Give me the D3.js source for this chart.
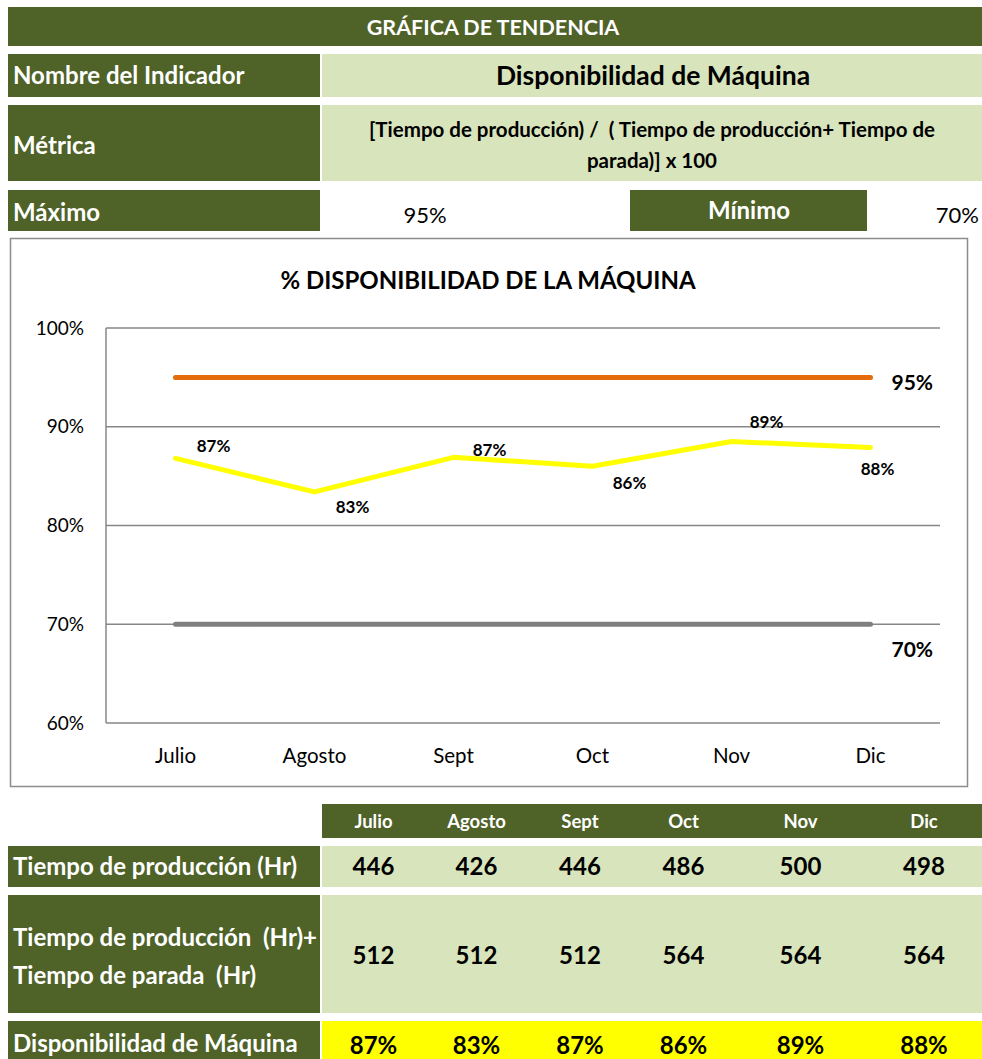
<!DOCTYPE html>
<html>
<head>
<meta charset="utf-8">
<script src="https://cdn.jsdelivr.net/npm/d3@7"></script>
<style>
  body { margin: 0; background: #fff; }
  svg text { font-family: Lato, "Open Sans", sans-serif; white-space: pre; }
</style>
</head>
<body>
<div id="chart"></div>
<script>
var months = ["Julio", "Agosto", "Sept", "Oct", "Nov", "Dic"];
var disponibilidad = [0.868, 0.834, 0.869, 0.860, 0.885, 0.879];
var dispLabels = ["87%", "83%", "87%", "86%", "89%", "88%"];
var tiempoProd = [446, 426, 446, 486, 500, 498];
var tiempoTotal = [512, 512, 512, 564, 564, 564];
var maximo = 0.95, minimo = 0.70;
var yTicks = [0.6, 0.7, 0.8, 0.9, 1.0];
// where each data label sits relative to its point [dx, dy]
var labelOffsets = [[38, -12], [38, 15], [36, -7], [37, 17], [35, -20], [7, 22]];

var dark = "#4F6228", light = "#D8E4BC";
var width = 982, height = 1059;

var svg = d3.select("#chart").append("svg")
    .attr("width", width)
    .attr("height", height);

// ---- header block ----
function cell(x, y, w, h, fill) {
    svg.append("rect").attr("x", x).attr("y", y).attr("width", w).attr("height", h).attr("fill", fill);
}
function txt(x, y, s, opts) {
    opts = opts || {};
    return svg.append("text")
        .attr("x", x).attr("y", y)
        .attr("dy", "0.35em")
        .attr("text-anchor", opts.anchor || "start")
        .style("font-size", (opts.size || 20) + "px")
        .style("font-weight", opts.weight || "bold")
        .attr("fill", opts.color || "#fff")
        .text(s);
}

cell(8, 7, 974, 39, dark);
txt(493, 27, "GRÁFICA DE TENDENCIA", {anchor: "middle", size: 21.5});

cell(8, 54, 312, 43, dark);
cell(322, 54, 660, 43, light);
txt(13, 76, "Nombre del Indicador", {size: 24});
txt(653, 76, "Disponibilidad de Máquina", {anchor: "middle", size: 26.5, color: "#000"});

cell(8, 105, 312, 76, dark);
cell(322, 105, 660, 76, light);
txt(13, 146, "Métrica", {size: 24});
txt(652, 130, "[Tiempo de producción) /  ( Tiempo de producción+ Tiempo de", {anchor: "middle", size: 20.5, color: "#000"});
txt(652, 161, "parada)] x 100", {anchor: "middle", size: 20.5, color: "#000"});

cell(8, 190, 312, 41, dark);
txt(13, 213, "Máximo", {size: 24});
txt(425, 215, d3.format(".0%")(maximo), {anchor: "middle", size: 22, weight: "normal", color: "#000"});
cell(630, 190, 237, 41, dark);
txt(749, 211, "Mínimo", {anchor: "middle", size: 24});
txt(979, 215, d3.format(".0%")(minimo), {anchor: "end", size: 22, weight: "normal", color: "#000"});

// ---- chart ----
svg.append("rect")
    .attr("x", 10.5).attr("y", 238.5)
    .attr("width", 957).attr("height", 548)
    .attr("fill", "#fff")
    .attr("stroke", "#8c8c8c")
    .attr("stroke-width", 1.5);

txt(488, 281, "% DISPONIBILIDAD DE LA MÁQUINA", {anchor: "middle", size: 24, color: "#000"});

var plot = {left: 106, right: 940, top: 328, bottom: 723};

var x = d3.scaleBand()
    .domain(months)
    .range([plot.left, plot.right]);

var y = d3.scaleLinear()
    .domain([0.6, 1.0])
    .range([plot.bottom, plot.top]);

var g = svg.append("g");

// gridlines
g.selectAll("line.grid").data(yTicks).enter().append("line")
    .attr("class", "grid")
    .attr("x1", plot.left).attr("x2", plot.right)
    .attr("y1", function(d) { return y(d); })
    .attr("y2", function(d) { return y(d); })
    .attr("stroke", "#878787")
    .attr("stroke-width", 1.5);

g.append("line")
    .attr("x1", plot.left).attr("x2", plot.left)
    .attr("y1", plot.top).attr("y2", plot.bottom)
    .attr("stroke", "#878787")
    .attr("stroke-width", 1.5);

var yAxis = d3.axisLeft(y).tickValues(yTicks).tickFormat(d3.format(".0%")).tickSize(0).tickPadding(22);
var yAxisG = g.append("g").attr("transform", "translate(" + plot.left + ",0)").call(yAxis);
yAxisG.select(".domain").remove();
yAxisG.selectAll("text").style("font-size", "19px").attr("fill", "#000")
    .style("font-family", "Lato, sans-serif");

var xAxis = d3.axisBottom(x).tickSize(0).tickPadding(25);
var xAxisG = g.append("g").attr("transform", "translate(0," + plot.bottom + ")").call(xAxis);
xAxisG.select(".domain").remove();
xAxisG.selectAll("text").style("font-size", "20.5px").attr("fill", "#000")
    .style("font-family", "Lato, sans-serif");

function cx(d) { return x(d) + x.bandwidth() / 2; }

// maximum and minimum limits
g.append("line")
    .attr("x1", cx(months[0])).attr("x2", cx(months[months.length - 1]))
    .attr("y1", y(maximo)).attr("y2", y(maximo))
    .attr("stroke", "#E46C0A").attr("stroke-width", 5).attr("stroke-linecap", "round");
g.append("line")
    .attr("x1", cx(months[0])).attr("x2", cx(months[months.length - 1]))
    .attr("y1", y(minimo)).attr("y2", y(minimo))
    .attr("stroke", "#7F7F7F").attr("stroke-width", 5).attr("stroke-linecap", "round");

txt(cx(months[5]) + 21, y(maximo) + 5, d3.format(".0%")(maximo), {size: 21, color: "#000"});
txt(cx(months[5]) + 21, y(minimo) + 25, d3.format(".0%")(minimo), {size: 21, color: "#000"});

var line = d3.line()
    .x(function(d, i) { return cx(months[i]); })
    .y(function(d) { return y(d); });

g.append("path")
    .datum(disponibilidad)
    .attr("d", line)
    .attr("fill", "none")
    .attr("stroke", "#FFFF00")
    .attr("stroke-width", 5)
    .attr("stroke-linejoin", "round")
    .attr("stroke-linecap", "round");

g.selectAll("text.dl").data(disponibilidad).enter().append("text")
    .attr("class", "dl")
    .attr("x", function(d, i) { return cx(months[i]) + labelOffsets[i][0]; })
    .attr("y", function(d, i) { return y(d) + labelOffsets[i][1]; })
    .attr("dy", "0.35em")
    .attr("text-anchor", "middle")
    .style("font-size", "17px")
    .style("font-weight", "bold")
    .text(function(d, i) { return dispLabels[i]; });

// ---- table ----
var colEdges = [322, 425, 528, 632, 735, 866, 982];
var colMid = months.map(function(m, i) { return (colEdges[i] + colEdges[i + 1]) / 2; });

cell(322, 804, 660, 34, dark);
months.forEach(function(m, i) {
    txt(colMid[i], 822, m, {anchor: "middle", size: 18.5});
});

cell(8, 846, 312, 41, dark);
cell(322, 846, 660, 41, light);
txt(13, 867, "Tiempo de producción (Hr)", {size: 24});
tiempoProd.forEach(function(v, i) {
    txt(colMid[i], 867, v, {anchor: "middle", size: 24, color: "#000"});
});

cell(8, 895, 312, 118, dark);
cell(322, 895, 660, 118, light);
txt(13, 938, "Tiempo de producción  (Hr)+", {size: 24});
txt(13, 976, "Tiempo de parada  (Hr)", {size: 24});
tiempoTotal.forEach(function(v, i) {
    txt(colMid[i], 956, v, {anchor: "middle", size: 24, color: "#000"});
});

cell(8, 1021, 312, 38, dark);
cell(322, 1021, 660, 38, "#FFFF00");
txt(13, 1044, "Disponibilidad de Máquina", {size: 24});
dispLabels.forEach(function(v, i) {
    txt(colMid[i], 1046, v, {anchor: "middle", size: 24, color: "#000"});
});
</script>
</body>
</html>
